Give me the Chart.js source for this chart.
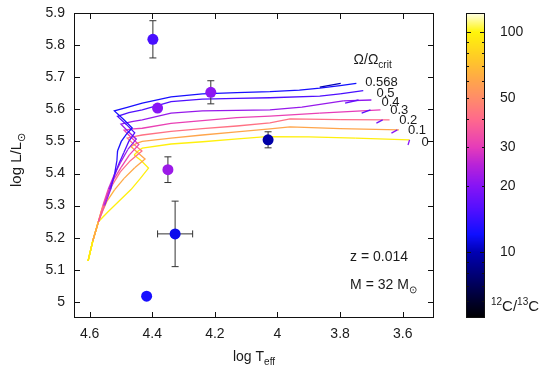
<!DOCTYPE html>
<html>
<head>
<meta charset="utf-8">
<script src="https://cdn.jsdelivr.net/npm/chart.js@4.4.0/dist/chart.umd.min.js"></script>
<style>
  html, body { margin: 0; padding: 0; background: #fff; }
</style>
</head>
<body>
<canvas id="hr" width="550" height="372"></canvas>
<script>
const FONT = "'Liberation Sans', Arial, Helvetica, sans-serif";

// axis ticks
const xTicks = [4.6, 4.4, 4.2, 4.0, 3.8, 3.6];
const xTickLabels = ['4.6', '4.4', '4.2', '4', '3.8', '3.6'];
const yTicks = [5.0, 5.1, 5.2, 5.3, 5.4, 5.5, 5.6, 5.7, 5.8, 5.9];
const yTickLabels = ['5', '5.1', '5.2', '5.3', '5.4', '5.5', '5.6', '5.7', '5.8', '5.9'];
const cbTicks = [10, 20, 30, 50, 100];
const cbMajorTicks = [10, 100];
const cbMinorTicks = [6, 7, 8, 9, 20, 30, 40, 50, 60, 70, 80, 90];

// rotation of each track (Omega/Omega_crit)
const omegaLabels = ['0', '0.1', '0.2', '0.3', '0.4', '0.5', '0.568'];

// evolutionary tracks: log Teff, log L, 12C/13C  (null = gap)
const trk0T = [4.605, 4.590, 4.572, 4.542, 4.505, 4.468, 4.438, 4.412, 4.435, 4.458, 4.445, 4.432, 4.34, 4.239, 4.137, 4.035, 3.90, 3.75, 3.578, 3.583];
const trk0L = [5.128, 5.19, 5.25, 5.28, 5.315, 5.35, 5.385, 5.417, 5.44, 5.458, 5.47, 5.479, 5.492, 5.499, 5.507, 5.515, 5.514, 5.51, 5.505, 5.489];
const trk0C = [97, 97, 96, 96, 96, 96, 96, 96, 96, 96, 97, 97, 97, 97, 97, 97, 97, 97, 96, 20];

const trk1T = [4.605, 4.590, 4.572, 4.560, 4.544, 4.520, 4.490, 4.456, 4.423, 4.446, 4.468, 4.450, 4.432, 4.34, 4.24, 4.13, 4.024, 3.96, 3.80, 3.612];
const trk1L = [5.128, 5.19, 5.25, 5.28, 5.315, 5.35, 5.385, 5.418, 5.445, 5.465, 5.484, 5.494, 5.500, 5.510, 5.520, 5.530, 5.539, 5.545, 5.540, 5.536];
const trk1C = [97, 96, 88, 78, 70, 65, 62, 61, 60, 60, 60, 60, 60, 60, 60, 60, 60, 60, 60, 60];

const trk2T = [4.605, 4.590, 4.572, 4.562, 4.547, 4.527, 4.502, 4.470, 4.433, 4.458, 4.480, 4.455, 4.432, 4.34, 4.24, 4.13, 4.024, 3.96, 3.80, 3.642, null, 3.636, 3.617];
const trk2L = [5.128, 5.19, 5.25, 5.285, 5.325, 5.365, 5.405, 5.44, 5.470, 5.490, 5.510, 5.516, 5.520, 5.531, 5.540, 5.548, 5.558, 5.570, 5.568, 5.567, null, 5.526, 5.536];
const trk2C = [97, 96, 80, 62, 52, 46, 43, 42, 42, 42, 42, 42, 42, 42, 42, 42, 42, 42, 42, 41, null, 20, 20];

const trk3T = [4.605, 4.590, 4.572, 4.560, 4.544, 4.524, 4.499, 4.473, 4.443, 4.468, 4.490, 4.460, 4.432, 4.34, 4.24, 4.13, 4.024, 3.865, 3.671, null, 3.684, 3.664];
const trk3L = [5.128, 5.19, 5.25, 5.29, 5.335, 5.38, 5.42, 5.458, 5.490, 5.513, 5.535, 5.539, 5.541, 5.556, 5.565, 5.574, 5.579, 5.588, 5.598, null, 5.557, 5.567];
const trk3C = [97, 95, 75, 55, 43, 37, 33, 31.5, 31, 31, 31, 31, 31, 31, 31, 31, 31, 31, 30, null, 18, 18];

const trk4T = [4.605, 4.590, 4.572, 4.558, 4.541, 4.522, 4.501, 4.478, 4.451, 4.476, 4.500, 4.465, 4.432, 4.34, 4.24, 4.13, 4.024, 3.922, 3.790, 3.700, null, 3.731, 3.703];
const trk4L = [5.128, 5.19, 5.25, 5.30, 5.35, 5.395, 5.435, 5.475, 5.507, 5.530, 5.554, 5.562, 5.567, 5.588, 5.595, 5.597, 5.598, 5.607, 5.626, 5.629, null, 5.588, 5.598];
const trk4C = [97, 94, 70, 48, 34, 27, 23.5, 22, 21.5, 21.5, 21.5, 21.5, 21.5, 21.5, 21.5, 21.5, 21.5, 21.5, 21.5, 21, null, 16, 16];

const trk5T = [4.605, 4.590, 4.572, 4.555, 4.537, 4.522, 4.507, 4.491, 4.475, 4.456, 4.483, 4.511, 4.475, 4.432, 4.34, 4.24, 4.13, 4.024, 3.865, 3.80, 3.726, null, 3.784, 3.741];
const trk5L = [5.128, 5.19, 5.25, 5.30, 5.35, 5.39, 5.43, 5.465, 5.50, 5.527, 5.553, 5.578, 5.590, 5.598, 5.624, 5.632, 5.634, 5.636, 5.641, 5.648, 5.658, null, 5.619, 5.629];
const trk5C = [97, 93, 65, 40, 27, 20, 17, 16, 15.5, 15.5, 15.5, 15.5, 15.5, 15.5, 15.5, 15.5, 15.5, 15.5, 15.5, 15.5, 15, null, 17, 17];

const trk6T = [4.605, 4.590, 4.572, 4.552, 4.533, 4.520, 4.513, 4.511, 4.499, 4.483, 4.464, 4.493, 4.521, 4.48, 4.432, 4.34, 4.24, 4.13, 4.024, 3.93, 3.865, 3.80, 3.748, null, 3.865, 3.798];
const trk6L = [5.128, 5.19, 5.25, 5.30, 5.35, 5.40, 5.44, 5.47, 5.50, 5.522, 5.542, 5.570, 5.595, 5.606, 5.619, 5.639, 5.648, 5.652, 5.655, 5.660, 5.666, 5.674, 5.681, null, 5.669, 5.681];
const trk6C = [97, 92, 60, 35, 22, 16, 14, 13, 12.5, 12.5, 12.5, 12.5, 12.5, 12.5, 12.5, 12.5, 12.5, 12.5, 12.5, 12.5, 12.5, 12.5, 12, null, 10, 10];

// observed stars
const starT = [4.398, 4.383, 4.213, 4.350, 4.327, 4.418, 4.030];
const starL = [5.818, 5.604, 5.653, 5.412, 5.212, 5.018, 5.505];
const starErrL = [0.058, 0, 0.036, 0.040, 0.102, 0, 0.025];
const starErrT = [0, 0, 0, 0, 0.056, 0, 0];
const starC = [15, 20, 20.5, 22, 11.5, 12.5, 9.5];

// colour map for 12C/13C (log spaced stops)
const cmapStops = [
  [5, [0, 0, 0]], [6, [0, 0, 45]], [7.5, [0, 0, 105]], [10, [0, 0, 180]],
  [12, [15, 15, 255]], [15.5, [80, 15, 255]], [20, [135, 20, 245]],
  [25, [185, 35, 215]], [30, [230, 60, 185]], [40, [255, 105, 140]],
  [50, [255, 140, 105]], [60, [255, 165, 75]], [75, [255, 200, 40]],
  [100, [255, 245, 10]], [122, [255, 255, 235]]
];
function cmap(v) {
  if (v == null) return undefined;
  const lv = Math.log10(v);
  let i = 0;
  while (i < cmapStops.length - 2 && lv > Math.log10(cmapStops[i + 1][0])) i++;
  const a = Math.log10(cmapStops[i][0]), b = Math.log10(cmapStops[i + 1][0]);
  const f = Math.min(1, Math.max(0, (lv - a) / (b - a)));
  const c0 = cmapStops[i][1], c1 = cmapStops[i + 1][1];
  const c = c0.map((q, k) => Math.round(q + (c1[k] - q) * f));
  return 'rgb(' + c.join(',') + ')';
}

const tracks = [
  [trk6T, trk6L, trk6C], [trk5T, trk5L, trk5C], [trk4T, trk4L, trk4C],
  [trk3T, trk3L, trk3C], [trk2T, trk2L, trk2C], [trk1T, trk1L, trk1C],
  [trk0T, trk0L, trk0C]
];

const datasets = [];
tracks.forEach(([T, L, C]) => {
  datasets.push({
    type: 'line',
    data: T.map((t, i) => ({ x: t, y: L[i] })),
    borderColor: cmap(C[C.length - 1]),
    borderWidth: 1.3,
    pointRadius: 0,
    spanGaps: false,
    tension: 0,
    order: 3,
    segment: { borderColor: s => cmap(C[s.p1DataIndex]) }
  });
});

// error bars
starT.forEach((t, i) => {
  if (starErrL[i] > 0) {
    datasets.push({
      type: 'line',
      data: [{ x: t, y: starL[i] - starErrL[i] }, { x: t, y: starL[i] + starErrL[i] }],
      borderColor: '#333', borderWidth: 1,
      pointStyle: 'line', pointRadius: 3.5, pointBorderWidth: 1,
      pointBorderColor: '#333', pointRotation: 0, order: 2
    });
  }
  if (starErrT[i] > 0) {
    datasets.push({
      type: 'line',
      data: [{ x: t - starErrT[i], y: starL[i] }, { x: t + starErrT[i], y: starL[i] }],
      borderColor: '#333', borderWidth: 1,
      pointStyle: 'line', pointRadius: 3.5, pointBorderWidth: 1,
      pointBorderColor: '#333', pointRotation: 90, order: 2
    });
  }
});

datasets.push({
  type: 'line',
  data: starT.map((t, i) => ({ x: t, y: starL[i] })),
  showLine: false,
  pointRadius: 5.5,
  pointBorderWidth: 0,
  pointBackgroundColor: starC.map(cmap),
  pointBorderColor: starC.map(cmap),
  order: 1
});

// text placed in data coordinates
const trackLabelPos = [
  [3.540, 5.496], [3.583, 5.533], [3.611, 5.564], [3.640, 5.595],
  [3.668, 5.623], [3.684, 5.651], [3.720, 5.685]
];

function richText(ctx, parts, x, y, align) {
  let w = 0;
  parts.forEach(p => { ctx.font = p[1] + 'px ' + FONT; w += ctx.measureText(p[0]).width; });
  let cx = align === 'center' ? x - w / 2 : x;
  parts.forEach(p => {
    ctx.font = p[1] + 'px ' + FONT;
    ctx.fillText(p[0], cx, y + (p[2] || 0));
    cx += ctx.measureText(p[0]).width;
  });
}

const CB_LEFT = 466, CB_W = 19;

const hrDecor = {
  id: 'hrDecor',
  afterDraw(chart) {
    const { ctx, chartArea: a } = chart;
    const { x, y, cb } = chart.scales;
    ctx.save();

    // colour bar
    for (let py = Math.floor(cb.top); py < cb.bottom; py++) {
      ctx.fillStyle = cmap(cb.getValueForPixel(py + 0.5));
      ctx.fillRect(CB_LEFT, py, CB_W, 1);
    }
    ctx.strokeStyle = '#111';
    ctx.lineWidth = 1;
    ctx.strokeRect(CB_LEFT + 0.5, cb.top + 0.5, CB_W - 1, cb.bottom - cb.top - 1);
    ctx.beginPath();
    cbMajorTicks.concat(cbMinorTicks).forEach(v => {
      const len = cbMajorTicks.includes(v) ? 5 : 3;
      const py = Math.round(cb.getPixelForValue(v)) + 0.5;
      ctx.moveTo(CB_LEFT, py); ctx.lineTo(CB_LEFT + len, py);
      ctx.moveTo(CB_LEFT + CB_W, py); ctx.lineTo(CB_LEFT + CB_W - len, py);
    });
    ctx.stroke();

    // frame + inward ticks
    ctx.strokeRect(a.left + 0.5, a.top + 0.5, a.width - 1, a.height - 1);
    ctx.beginPath();
    xTicks.forEach(v => {
      const px = Math.round(x.getPixelForValue(v)) + 0.5;
      ctx.moveTo(px, a.bottom); ctx.lineTo(px, a.bottom - 6);
      ctx.moveTo(px, a.top); ctx.lineTo(px, a.top + 6);
    });
    yTicks.forEach(v => {
      const py = Math.round(y.getPixelForValue(v)) + 0.5;
      ctx.moveTo(a.left, py); ctx.lineTo(a.left + 6, py);
      ctx.moveTo(a.right, py); ctx.lineTo(a.right - 6, py);
    });
    ctx.stroke();

    // texts
    ctx.fillStyle = '#1a1a1a';
    ctx.textBaseline = 'alphabetic';
    ctx.textAlign = 'left';
    richText(ctx, [['log T', 14], ['eff', 10, 4]], 254, 361, 'center');
    ctx.save();
    ctx.translate(0, 160);
    ctx.rotate(-Math.PI / 2);
    richText(ctx, [['log L/L', 15], ['\u2299', 11, 4]], 0, 21, 'center');
    ctx.restore();

    richText(ctx, [['\u03A9/\u03A9', 14], ['crit', 10, 4]], x.getPixelForValue(3.757), y.getPixelForValue(5.740), 'left');
    richText(ctx, [['z = 0.014', 14]], x.getPixelForValue(3.768), y.getPixelForValue(5.129), 'left');
    richText(ctx, [['M = 32 M', 14], ['\u2299', 10, 4]], x.getPixelForValue(3.768), y.getPixelForValue(5.039), 'left');

    ctx.textBaseline = 'middle';
    ctx.font = '13px ' + FONT;
    omegaLabels.forEach((s, i) => {
      ctx.fillText(s, x.getPixelForValue(trackLabelPos[i][0]), y.getPixelForValue(trackLabelPos[i][1]));
    });

    ctx.textBaseline = 'alphabetic';
    richText(ctx, [['12', 10, -6], ['C/', 15], ['13', 10, -6], ['C', 15]], 491, 311, 'left');
    ctx.restore();
  }
};

Chart.defaults.font.family = FONT;
Chart.defaults.font.size = 14;
Chart.defaults.color = '#1a1a1a';

// the axes' own label padding would otherwise push the plot area inwards
const noPad = s => { s.paddingTop = 0; s.paddingBottom = 0; s.paddingLeft = 0; s.paddingRight = 0; };

new Chart(document.getElementById('hr'), {
  type: 'line',
  data: { datasets: datasets },
  options: {
    responsive: false,
    animation: false,
    devicePixelRatio: 1,
    layout: { padding: { top: 13, left: 0, right: 0, bottom: 0 } },
    plugins: { legend: { display: false }, tooltip: { enabled: false } },
    scales: {
      x: {
        type: 'linear', reverse: true, min: 3.5, max: 4.65, bounds: 'data',
        grid: { display: false, drawTicks: false }, border: { display: false },
        ticks: { padding: 8, autoSkip: false, maxRotation: 0, callback: (v, i) => xTickLabels[i] },
        afterBuildTicks: s => { s.ticks = xTicks.map(v => ({ value: v })); },
        afterFit: s => { s.height = 54; noPad(s); }
      },
      y: {
        type: 'linear', position: 'left', min: 4.95, max: 5.9, bounds: 'data',
        grid: { display: false, drawTicks: false }, border: { display: false },
        ticks: { padding: 9, autoSkip: false, callback: (v, i) => yTickLabels[i] },
        afterBuildTicks: s => { s.ticks = yTicks.map(v => ({ value: v })); },
        afterFit: s => { s.width = 74; noPad(s); }
      },
      cb: {
        type: 'logarithmic', axis: 'y', position: 'right', min: 5, max: 122, bounds: 'data',
        grid: { display: false, drawTicks: false }, border: { display: false },
        ticks: { padding: 66, autoSkip: false, callback: (v, i) => String(cbTicks[i]) },
        afterBuildTicks: s => { s.ticks = cbTicks.map(v => ({ value: v })); },
        afterFit: s => { s.width = 116; noPad(s); }
      }
    }
  },
  plugins: [hrDecor]
});
</script>
</body>
</html>
